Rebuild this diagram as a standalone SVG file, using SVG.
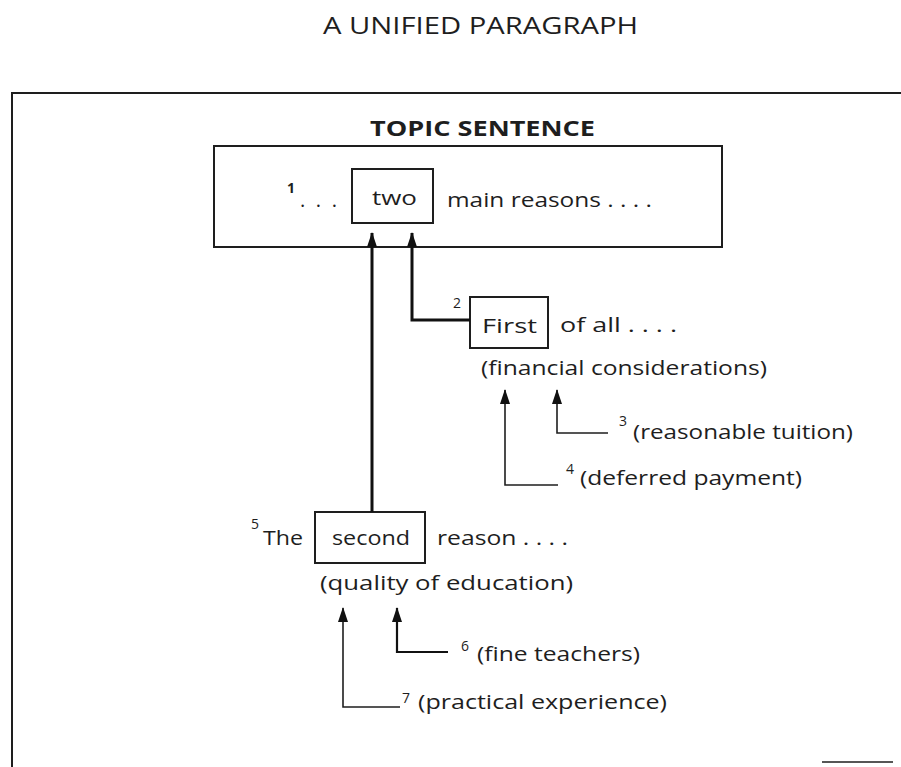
<svg xmlns="http://www.w3.org/2000/svg" width="901" height="767" viewBox="0 0 901 767">
  <style>
    .t { font-family: "Open Sans", "DejaVu Sans", sans-serif; font-size: 20px; fill: #1e1e1e; }
    .sup { font-family: "Open Sans", "DejaVu Sans", sans-serif; font-size: 14px; fill: #1e1e1e; }
    .head { font-family: "Open Sans", "DejaVu Sans", sans-serif; fill: #1e1e1e; }
    .frame { fill: none; stroke: #1e1e1e; stroke-width: 2; }
    .box { fill: none; stroke: #1e1e1e; stroke-width: 2; }
    .thick { fill: none; stroke: #111; stroke-width: 3; }
    .mid { fill: none; stroke: #111; stroke-width: 2.2; }
    .thin { fill: none; stroke: #1e1e1e; stroke-width: 1.6; }
  </style>
  <defs>
    <!-- filled arrowhead drawn along +x so orient="auto" points it along the line -->
    <marker id="arrow" viewBox="0 0 15 10" refX="14" refY="5" markerWidth="15" markerHeight="10" markerUnits="userSpaceOnUse" orient="auto">
      <path d="M0 0 L15 5 L0 10 Z" fill="#111"/>
    </marker>
  </defs>
  <rect width="901" height="767" fill="#fff"/>

  <!-- page heading and open frame -->
  <text class="head" x="323" y="34" font-size="23" textLength="315" lengthAdjust="spacingAndGlyphs">A UNIFIED PARAGRAPH</text>
  <path class="frame" d="M12 767 V93 H901"/>
  <line class="thin" x1="822" y1="762" x2="893" y2="762"/>

  <!-- topic sentence -->
  <g id="topic">
    <text class="head" x="370" y="136" font-size="22" font-weight="bold" textLength="225" lengthAdjust="spacingAndGlyphs">TOPIC SENTENCE</text>
    <rect class="frame" x="214" y="146" width="508" height="101"/>
    <text class="sup" x="287" y="193" font-weight="bold">1</text>
    <text class="t" x="300" y="207" textLength="37" lengthAdjust="spacing">. . .</text>
    <rect class="box" x="352" y="169" width="81" height="54"/>
    <text class="t" x="372" y="205" textLength="45" lengthAdjust="spacingAndGlyphs">two</text>
    <text class="t" x="447" y="207" textLength="205" lengthAdjust="spacingAndGlyphs">main reasons . . . .</text>
  </g>

  <!-- first reason -->
  <g id="first">
    <text class="sup" x="453" y="308">2</text>
    <rect class="box" x="470" y="297" width="78" height="51"/>
    <text class="t" x="482" y="333" textLength="55" lengthAdjust="spacingAndGlyphs">First</text>
    <text class="t" x="560" y="332" textLength="117" lengthAdjust="spacingAndGlyphs">of all . . . .</text>
    <text class="t" x="481" y="375" textLength="286" lengthAdjust="spacingAndGlyphs">(financial considerations)</text>
  </g>

  <g id="detail3">
    <text class="sup" x="619" y="426">3</text>
    <text class="t" x="633" y="439" textLength="220" lengthAdjust="spacingAndGlyphs">(reasonable tuition)</text>
  </g>

  <g id="detail4">
    <text class="sup" x="566" y="474">4</text>
    <text class="t" x="580" y="485" textLength="222" lengthAdjust="spacingAndGlyphs">(deferred payment)</text>
  </g>

  <!-- second reason -->
  <g id="second">
    <text class="sup" x="251" y="529">5</text>
    <text class="t" x="263" y="545" textLength="40" lengthAdjust="spacingAndGlyphs">The</text>
    <rect class="box" x="315" y="512" width="110" height="51"/>
    <text class="t" x="332" y="545" textLength="78" lengthAdjust="spacingAndGlyphs">second</text>
    <text class="t" x="437" y="545" textLength="131" lengthAdjust="spacingAndGlyphs">reason . . . .</text>
    <text class="t" x="320" y="590" textLength="253" lengthAdjust="spacingAndGlyphs">(quality of education)</text>
  </g>

  <g id="detail6">
    <text class="sup" x="461" y="651">6</text>
    <text class="t" x="477" y="661" textLength="163" lengthAdjust="spacingAndGlyphs">(fine teachers)</text>
  </g>

  <g id="detail7">
    <text class="sup" x="402" y="703">7</text>
    <text class="t" x="418" y="709" textLength="249" lengthAdjust="spacingAndGlyphs">(practical experience)</text>
  </g>

  <!-- connectors -->
  <g id="connectors">
    <path class="thick" d="M372 512 V233" marker-end="url(#arrow)"/>
    <path class="thick" d="M470 320 H412 V233" marker-end="url(#arrow)"/>
    <path class="thin" d="M608 433 H557 V390" marker-end="url(#arrow)"/>
    <path class="thin" d="M558 485 H505 V390" marker-end="url(#arrow)"/>
    <path class="mid" d="M448 652 H397 V608" marker-end="url(#arrow)"/>
    <path class="thin" d="M400 707 H343 V608" marker-end="url(#arrow)"/>
  </g>
</svg>
